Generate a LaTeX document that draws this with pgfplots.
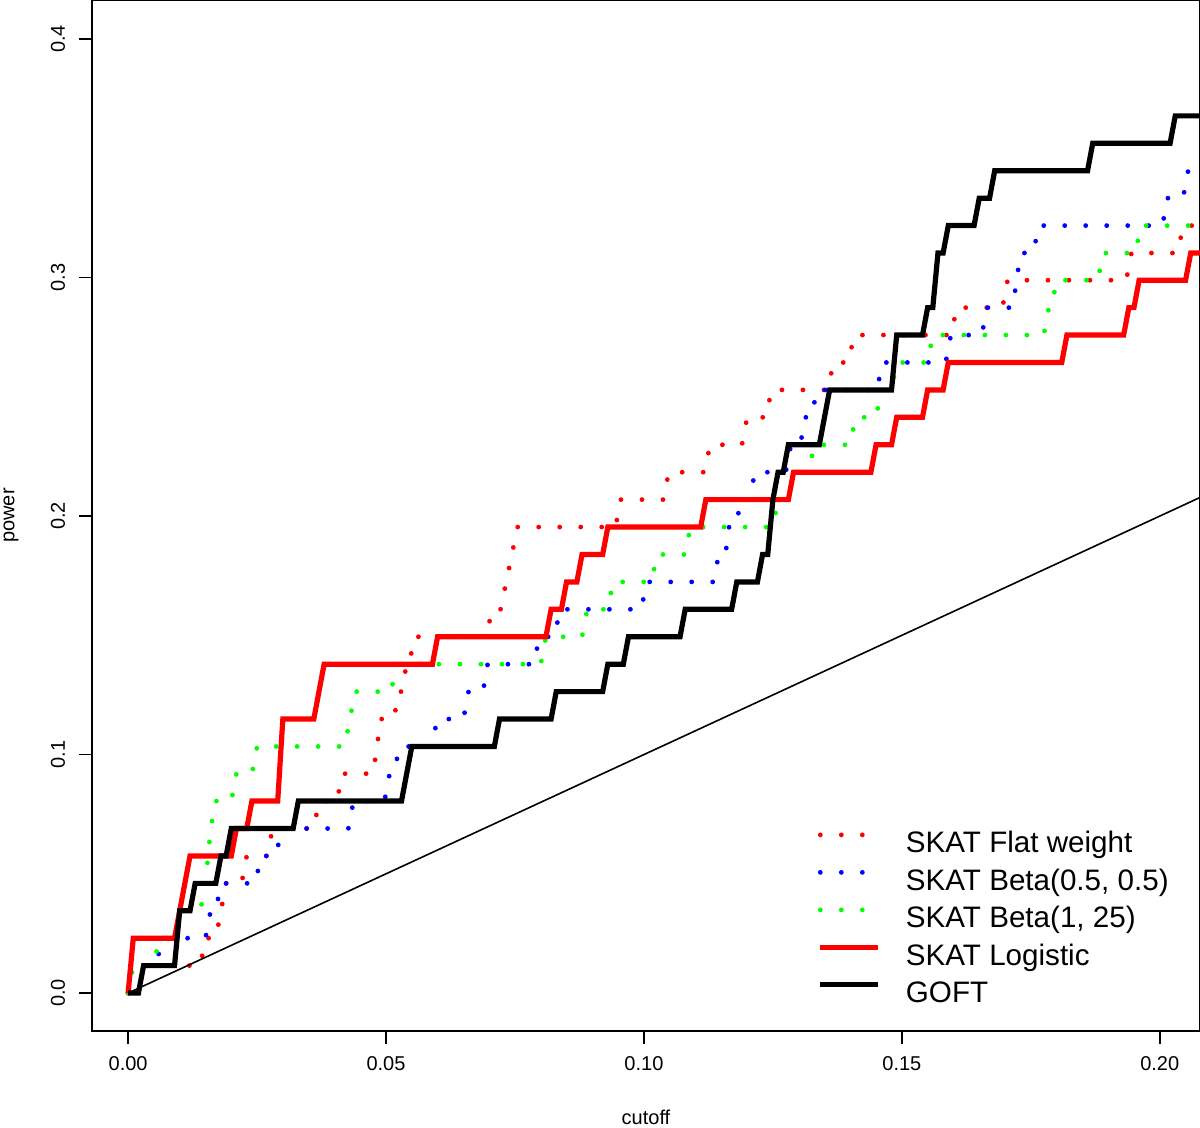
\documentclass[border=0pt]{standalone}
\usepackage{fontspec}
\setmainfont{Liberation Sans}
\usepackage{pgfplots}
\pgfplotsset{compat=1.18}

% dotted step curves (R lty=3) and thick step curves
\pgfplotsset{
  dotser/.style={line width=2.4pt, line cap=round, dash pattern=on 0pt off 10.5pt},
  stepline/.style={line width=2.6pt, line join=miter},
}

\begin{document}
\begin{tikzpicture}
\begin{axis}[
  scale only axis,
  width=554pt, height=515.5pt,
  xmin=-0.0070, xmax=0.2078,
  ymin=-0.0159, ymax=0.4164,
  axis line style={line width=0.9pt},
  tick align=outside,
  tick pos=left,
  major tick length=6.5pt,
  tick style={line width=0.8pt, black},
  xtick={0,0.05,0.1,0.15,0.2},
  xticklabels={0.00,0.05,0.10,0.15,0.20},
  ytick={0,0.1,0.2,0.3,0.4},
  yticklabels={0.0,0.1,0.2,0.3,0.4},
  xticklabel style={font=\fontsize{10}{12}\selectfont, anchor=center, yshift=-10pt},
  yticklabel style={font=\fontsize{10}{12}\selectfont, rotate=90, anchor=center, yshift=10.5pt},
  xlabel={cutoff},
  ylabel={power},
  xlabel style={font=\fontsize{10}{12}\selectfont, at={(axis description cs:0.5,0)}, anchor=center, yshift=-43pt},
  ylabel style={font=\fontsize{10}{12}\selectfont, at={(axis description cs:0,0.5)}, anchor=center, yshift=40.5pt},
  legend cell align=left,
  legend image code/.code={\draw[#1] (0pt,5.3pt) -- (29pt,5.3pt);},
  legend style={at={(0.655,0.194)}, anchor=north west, draw=none, fill=none,
    inner sep=0pt, outer sep=0pt, row sep=4.25pt, column sep=12.5pt,
    font=\fontsize{14.8}{17}\selectfont,
    nodes={inner sep=0pt, text height=11pt, text depth=3.5pt}},
]
% SKAT Flat weight
\addplot[dotser, red] coordinates {
(0,0) (0.002,0) (0.003,0.0115) (0.014,0.0115) (0.015,0.0230) (0.017,0.0230) (0.019,0.0460)
(0.022,0.0460) (0.023,0.0575) (0.027,0.0575) (0.028,0.0690) (0.036,0.0690) (0.037,0.0805)
(0.0405,0.0805) (0.0415,0.0920) (0.0475,0.0920) (0.0490,0.1149) (0.0515,0.1149) (0.0525,0.1264)
(0.053,0.1264) (0.054,0.1379) (0.0545,0.1379) (0.0555,0.1494) (0.0695,0.1494) (0.0705,0.1609)
(0.0722,0.1609) (0.0755,0.1954) (0.0945,0.1954) (0.0955,0.2069) (0.1038,0.2069) (0.1048,0.2184)
(0.1118,0.2184) (0.1128,0.2299) (0.1190,0.2299) (0.1200,0.2414) (0.1237,0.2414) (0.1247,0.2529)
(0.1357,0.2529) (0.1367,0.2644) (0.1397,0.2644) (0.1407,0.2759) (0.1596,0.2759) (0.1606,0.2874)
(0.1695,0.2874) (0.1705,0.2989) (0.1935,0.2989) (0.1945,0.3103) (0.2035,0.3103) (0.2045,0.3218)
(0.21,0.3218)
};
\addlegendentry{SKAT Flat weight}
% SKAT Beta(0.5, 0.5)
\addplot[dotser, blue] coordinates {
(0,0) (0.002,0) (0.003,0.0115) (0.0055,0.0115) (0.0065,0.0230) (0.0150,0.0230) (0.0160,0.0345)
(0.0170,0.0345) (0.0180,0.0460) (0.0247,0.0460) (0.0257,0.0575) (0.0287,0.0575) (0.0297,0.0690)
(0.0427,0.0690) (0.0437,0.0805) (0.0497,0.0805) (0.0507,0.0920) (0.0513,0.0920) (0.0528,0.1034)
(0.0589,0.1034) (0.0599,0.1149) (0.0650,0.1149) (0.0660,0.1264) (0.0688,0.1264) (0.0697,0.1379)
(0.0787,0.1379) (0.0797,0.1494) (0.0827,0.1494) (0.0837,0.1609) (0.0995,0.1609) (0.1005,0.1724)
(0.1135,0.1724) (0.1145,0.1839) (0.1158,0.1839) (0.1165,0.1954) (0.1178,0.1954) (0.1188,0.2069)
(0.1205,0.2069) (0.1215,0.2184) (0.1275,0.2184) (0.1285,0.2299) (0.1303,0.2299) (0.1313,0.2414)
(0.1325,0.2414) (0.1335,0.2529) (0.1452,0.2529) (0.1462,0.2644) (0.1585,0.2644) (0.1595,0.2759)
(0.1655,0.2759) (0.1665,0.2874) (0.1715,0.2874) (0.1730,0.3103) (0.1755,0.3103) (0.1765,0.3218)
(0.2005,0.3218) (0.2015,0.3333) (0.2045,0.3333) (0.2055,0.3448) (0.21,0.3448)
};
\addlegendentry{SKAT Beta(0.5, 0.5)}
% SKAT Beta(1, 25)
\addplot[dotser, green] coordinates {
(0,0) (0.001,0.0115) (0.005,0.0115) (0.006,0.0230) (0.009,0.0230) (0.010,0.0345) (0.014,0.0345)
(0.015,0.0460) (0.016,0.0690) (0.017,0.0805) (0.020,0.0805) (0.021,0.0920) (0.024,0.0920)
(0.025,0.1034) (0.042,0.1034) (0.043,0.1149) (0.044,0.1264) (0.051,0.1264) (0.052,0.1379)
(0.080,0.1379) (0.081,0.1494) (0.088,0.1494) (0.089,0.1609) (0.093,0.1609) (0.094,0.1724)
(0.1015,0.1724) (0.1025,0.1839) (0.108,0.1839) (0.109,0.1954) (0.125,0.1954) (0.126,0.2069)
(0.128,0.2069) (0.129,0.2184) (0.132,0.2184) (0.133,0.2299) (0.140,0.2299) (0.141,0.2414)
(0.145,0.2414) (0.146,0.2529) (0.148,0.2529) (0.149,0.2644) (0.155,0.2644) (0.156,0.2759)
(0.1775,0.2759) (0.1785,0.2874) (0.1790,0.2874) (0.1800,0.2989) (0.188,0.2989) (0.189,0.3103)
(0.1953,0.3103) (0.1963,0.3218) (0.21,0.3218)
};
\addlegendentry{SKAT Beta(1, 25)}
% SKAT Logistic
\addplot[stepline, red] coordinates {
(0,0) (0.001,0.0230) (0.009,0.0230) (0.012,0.0575) (0.020,0.0575) (0.021,0.0690) (0.023,0.0690)
(0.024,0.0805) (0.029,0.0805) (0.030,0.1149) (0.036,0.1149) (0.038,0.1379) (0.059,0.1379)
(0.060,0.1494) (0.081,0.1494) (0.082,0.1609) (0.084,0.1609) (0.085,0.1724) (0.087,0.1724)
(0.088,0.1839) (0.092,0.1839) (0.093,0.1954) (0.111,0.1954) (0.112,0.2069) (0.128,0.2069)
(0.129,0.2184) (0.144,0.2184) (0.145,0.2299) (0.148,0.2299) (0.149,0.2414) (0.154,0.2414)
(0.155,0.2529) (0.158,0.2529) (0.159,0.2644) (0.181,0.2644) (0.182,0.2759) (0.193,0.2759)
(0.194,0.2874) (0.195,0.2874) (0.196,0.2989) (0.205,0.2989) (0.206,0.3103) (0.21,0.3103)
};
\addlegendentry{SKAT Logistic}
% GOFT
\addplot[stepline, black] coordinates {
(0,0) (0.002,0) (0.003,0.0115) (0.009,0.0115) (0.010,0.0345) (0.012,0.0345) (0.013,0.0460)
(0.017,0.0460) (0.018,0.0575) (0.019,0.0575) (0.020,0.0690) (0.032,0.0690) (0.033,0.0805)
(0.053,0.0805) (0.055,0.1034) (0.071,0.1034) (0.072,0.1149) (0.082,0.1149) (0.083,0.1264)
(0.092,0.1264) (0.093,0.1379) (0.096,0.1379) (0.097,0.1494) (0.107,0.1494) (0.108,0.1609)
(0.117,0.1609) (0.118,0.1724) (0.122,0.1724) (0.123,0.1839) (0.124,0.1839) (0.125,0.2069)
(0.126,0.2184) (0.127,0.2184) (0.128,0.2299) (0.134,0.2299) (0.136,0.2529) (0.148,0.2529)
(0.149,0.2759) (0.154,0.2759) (0.155,0.2874) (0.156,0.2874) (0.157,0.3103) (0.158,0.3103)
(0.159,0.3218) (0.164,0.3218) (0.165,0.3333) (0.167,0.3333) (0.168,0.3448) (0.186,0.3448)
(0.187,0.3563) (0.202,0.3563) (0.203,0.3678) (0.21,0.3678)
};
\addlegendentry{GOFT}
% reference line power = cutoff
\addplot[black, line width=0.8pt, forget plot] coordinates {(0,0) (0.21,0.21)};
\end{axis}
\pgfresetboundingbox
\path (current axis.south west) ++(-46pt,-48.5pt) rectangle (current axis.north east);
\end{tikzpicture}
\end{document}
